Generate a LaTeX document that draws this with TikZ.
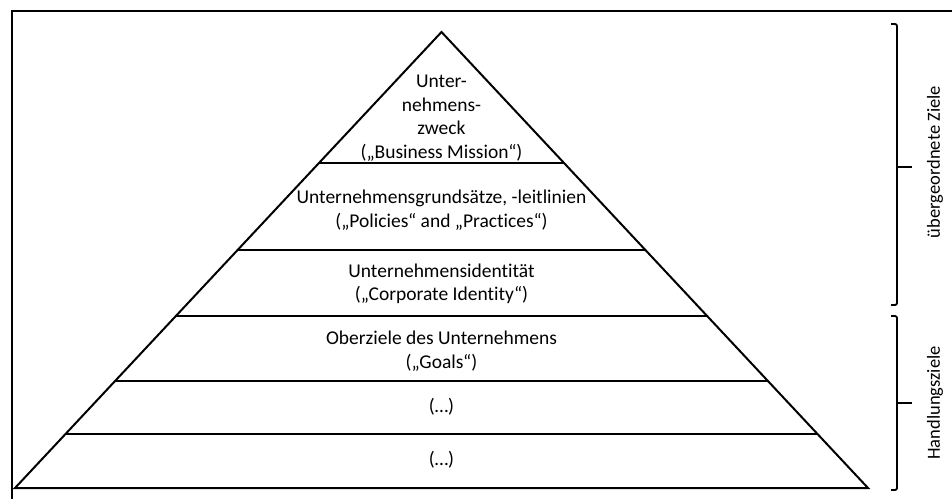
\documentclass[tikz,border=0pt]{standalone}
\usepackage{fontspec}
\setmainfont{Carlito}[Ligatures=NoCommon]
\usetikzlibrary{calc}

\tikzset{
  frameline/.style={line width=2pt, line cap=rect},
  pyr/.style={line width=2pt, line join=miter},
  level/.style={line width=2pt},
  brace/.style={line width=1.8pt, rounded corners=2pt},
  lbl/.style={align=center, font=\fontsize{19.5}{23.5}\selectfont, inner sep=0pt},
  sidelbl/.style={rotate=90, font=\fontsize{18.5}{22}\selectfont, inner sep=0pt}
}

\begin{document}
\begin{tikzpicture}[x=1pt, y=-1pt]
  \useasboundingbox (0,0) rectangle (952,498);

  % open frame: top and left edges
  \draw[frameline] (12,498) -- (12,11) -- (952,11);

  % pyramid outline
  \coordinate (apex) at (441.5,32);
  \coordinate (bl) at (15,488);
  \coordinate (br) at (868,488);
  \draw[pyr] (apex) -- (bl) -- (br) -- cycle;

  % horizontal dividers between the levels
  \foreach \yy/\nm in {163/a, 250/b, 316/c, 381/d, 434/e} {
    \coordinate (L\nm) at ($(apex)!{(\yy-32)/456}!(bl)$);
    \coordinate (R\nm) at ($(apex)!{(\yy-32)/456}!(br)$);
    \draw[level] (L\nm) -- (R\nm);
  }

  % level texts
  \node[lbl] (t1) at (441.5,118) {Unter-\\nehmens-\\zweck\\(„Business Mission“)};
  \node[lbl] (t2) at (441.5,210) {Unternehmensgrundsätze, -leitlinien\\(„Policies“ and „Practices“)};
  \node[lbl] (t3) at (441.5,284) {Unternehmensidentität\\(„Corporate Identity“)};
  \node[lbl] (t4) at (441.5,351) {Oberziele des Unternehmens\\(„Goals“)};
  \node[lbl] (t5) at (441.5,407) {(…)};
  \node[lbl] (t6) at (441.5,460) {(…)};

  % braces on the right
  \coordinate (ua) at (897,24);
  \coordinate (ub) at (897,305);
  \coordinate (um) at (897,167);
  \coordinate (la) at (897,316);
  \coordinate (lb) at (897,490);
  \coordinate (lm) at (897,403);
  \draw[brace] ($(ua)+(-6,0)$) -- (ua) -- (ub) -- ($(ub)+(-6,0)$);
  \draw[line width=1.8pt] (um) -- ++(15,0);
  \draw[brace] ($(la)+(-6,0)$) -- (la) -- (lb) -- ($(lb)+(-6,0)$);
  \draw[line width=1.8pt] (lm) -- ++(15,0);

  \node[sidelbl] (s1) at (935,162) {übergeordnete Ziele};
  \node[sidelbl] (s2) at (935,403) {Handlungsziele};
\end{tikzpicture}
\end{document}
